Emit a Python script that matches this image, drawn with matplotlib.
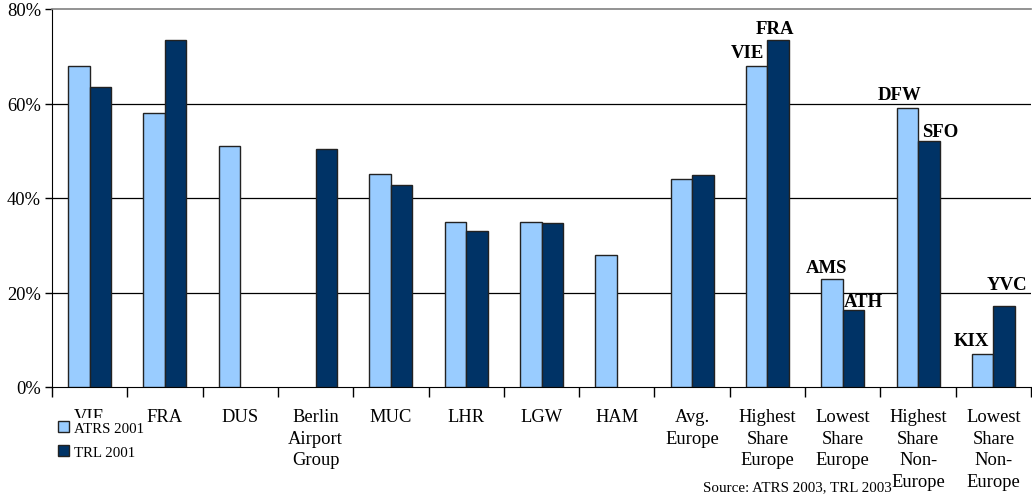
import matplotlib
matplotlib.use("Agg")
import matplotlib.pyplot as plt
import numpy as np

categories = ["VIE", "FRA", "DUS", "Berlin\nAirport\nGroup", "MUC", "LHR", "LGW", "HAM",
              "Avg.\nEurope", "Highest\nShare\nEurope", "Lowest\nShare\nEurope",
              "Highest\nShare\nNon-\nEurope", "Lowest\nShare\nNon-\nEurope"]
atrs_2001 = [68, 58, 51, np.nan, 45, 35, 35, 28, 44, 68, 22.9, 59, 7]
trl_2001 = [63.4, 73.4, np.nan, 50.4, 42.7, 33, 34.8, np.nan, 44.8, 73.4, 16.3, 52, 17.2]
yticks = [0, 20, 40, 60, 80]
ytick_labels = ["0%", "20%", "40%", "60%", "80%"]

plt.rcParams['font.family'] = ['Liberation Serif', 'DejaVu Serif']

fig = plt.figure(figsize=(10.32, 5.02), dpi=100)
ax = fig.add_axes([52/1032, 1-388/502, 979/1032, 378/502])

x = np.arange(len(categories))
w = 0.285
light = "#99CCFF"
dark = "#003366"
b1 = ax.bar(x - w/2, atrs_2001, w, color=light, edgecolor="#222222", linewidth=1.0, label="ATRS 2001", zorder=3)
b2 = ax.bar(x + w/2, trl_2001, w, color=dark, edgecolor="#222222", linewidth=1.0, label="TRL 2001", zorder=3)

ax.set_xlim(-0.5, len(categories) - 0.5)
ax.set_ylim(0, 80)
ax.set_yticks(yticks)
ax.set_yticklabels(ytick_labels, fontsize=13.3)
for yv in yticks[1:4]:
    ax.axhline(yv, color="black", linewidth=0.9, zorder=1)

ax.set_xticks(x)
ax.set_xticklabels(categories, fontsize=13.3, linespacing=1.37, va="top")
ax.set_xticks(np.arange(-0.5, len(categories), 1.0), minor=True)
ax.tick_params(axis="x", which="major", length=0, pad=15)
ax.tick_params(axis="x", which="minor", length=7, width=1, color="black", direction="out")
ax.tick_params(axis="y", length=5, width=1, direction="out", pad=3)

ax.spines["right"].set_visible(False)
ax.spines["top"].set_color("#808080")
ax.spines["top"].set_linewidth(1.2)
ax.spines["left"].set_color("black")
ax.spines["bottom"].set_color("black")

# Bar annotations (bold airport codes), placed relative to the bar tops
ann_kw = dict(fontsize=13.5, fontweight="bold", zorder=5, ha="center", va="center")
ax.text(9 - 0.26, atrs_2001[9] + 2.7, "VIE", **ann_kw)
ax.text(9 + 0.10, trl_2001[9] + 2.4, "FRA", **ann_kw)
ax.text(10 - 0.215, atrs_2001[10] + 2.3, "AMS", **ann_kw)
ax.text(10 + 0.27, trl_2001[10] + 1.7, "ATH", **ann_kw)
ax.text(11 - 0.25, atrs_2001[11] + 2.8, "DFW", **ann_kw)
ax.text(11 + 0.30, trl_2001[11] + 2.0, "SFO", **ann_kw)
ax.text(12 - w, atrs_2001[12] + 2.9, "KIX", **ann_kw)
ax.text(12 + 0.18, trl_2001[12] + 4.4, "YVC", **ann_kw)

leg = fig.legend(handles=[b1, b2], labels=["ATRS 2001", "TRL 2001"],
                 loc="upper left", bbox_to_anchor=(55/1032, 1-419/502),
                 fontsize=10.7, frameon=True, fancybox=False,
                 handlelength=0.75, handleheight=0.75, handletextpad=0.3,
                 labelspacing=0.7, borderpad=0.2, borderaxespad=0)
leg.get_frame().set_edgecolor("none")
leg.get_frame().set_facecolor("white")
leg.get_frame().set_alpha(1.0)

fig.text(797/1032, 1-488/502, "Source: ATRS 2003, TRL 2003", ha="center", va="center", fontsize=10.8)

fig.savefig("out.png", dpi=100)
